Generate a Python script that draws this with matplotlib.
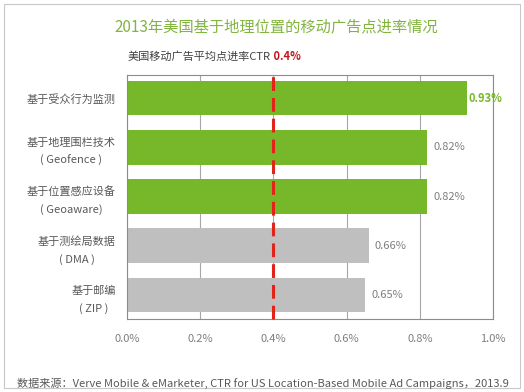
#US location-based mobile ad CTR, 2013

import matplotlib
matplotlib.use('Agg')
import matplotlib.pyplot as plt
from matplotlib.patches import Rectangle

plt.rcParams['font.family'] = ['Noto Sans CJK SC', 'DejaVu Sans']

categories = ['基于受众行为监测',
              '基于地理围栏技术\n( Geofence )',
              '基于位置感应设备\n( Geoaware)',
              '基于测绘局数据\n( DMA )',
              '基于邮编\n( ZIP )']
ctr = [0.93, 0.82, 0.82, 0.66, 0.65]
value_labels = ['0.93%', '0.82%', '0.82%', '0.66%', '0.65%']
avg_ctr = 0.4
xticks = [0.0, 0.2, 0.4, 0.6, 0.8, 1.0]
xtick_labels = ['0.0%', '0.2%', '0.4%', '0.6%', '0.8%', '1.0%']

title = '2013年美国基于地理位置的移动广告点进率情况'
subtitle = '美国移动广告平均点进率CTR'
subtitle_value = ' 0.4%'
source = '数据来源：Verve Mobile & eMarketer, CTR for US Location-Based Mobile Ad Campaigns，2013.9'

green = '#76B82A'
grey_bar = '#BFBFBF'
text_grey = '#595959'
colors = [green, green, green, grey_bar, grey_bar]

W, H = 524, 392
fig = plt.figure(figsize=(W / 100, H / 100), dpi=100)
ax = fig.add_axes([127 / W, 1 - 319 / H, 366 / W, 244 / H])

pos = list(range(len(categories)))
ax.barh(pos, ctr, height=0.70, color=colors, zorder=2)

#average line
ax.axvline(avg_ctr, ymin=0, ymax=1.012, color='#E2231A', lw=2.2,
           dashes=(4.5, 2.3), clip_on=False, zorder=4)

for i, (v, lab) in enumerate(zip(ctr, value_labels)):
    if i == 0:
        ax.annotate(lab, (v, i), xytext=(0.5, 0), textcoords='offset points',
                    va='center', ha='left', fontsize=8, color=green,
                    fontweight='bold', zorder=5)
    else:
        ax.annotate(lab, (v, i), xytext=(4.5, 0), textcoords='offset points',
                    va='center', ha='left', fontsize=8, color='#7F7F7F')

ax.set_xlim(0, 1.0)
ax.set_ylim(4.49, -0.47)
ax.set_xticks(xticks)
ax.set_xticklabels(xtick_labels)
ax.set_yticks(pos)
ax.set_yticklabels(categories)
ax.tick_params(axis='x', length=0, pad=11, labelsize=8, labelcolor='#7F7F7F')
ax.tick_params(axis='y', length=0, pad=8, labelsize=8, labelcolor=text_grey)
for lbl in ax.get_yticklabels():
    lbl.set_multialignment('center')
    lbl.set_linespacing(1.8)

ax.grid(axis='x', color='#A6A6A6', lw=0.8, zorder=0)
ax.set_axisbelow(True)
for s in ax.spines.values():
    s.set_color('#8C8C8C')
    s.set_linewidth(0.8)

#titles
fig.text(276 / W, 1 - 27 / H, title, ha='center', va='center',
         fontsize=11, color='#82B440')
t1 = fig.text(128 / W, 1 - 57 / H, subtitle, ha='left', va='center',
              fontsize=8, color='#404040')
fig.add_artist(plt.Annotation(subtitle_value, xy=(1, 0.5), xycoords=t1,
                              va='center', ha='left', fontsize=8,
                              color='#C0161B', fontweight='bold'))
fig.text(17 / W, 1 - 383 / H, source, ha='left', va='center',
         fontsize=8, color=text_grey)

#outer frame
fig.add_artist(Rectangle((4 / W, 1 - 388 / H), 516 / W, 384 / H,
                         transform=fig.transFigure, fill=False,
                         edgecolor='#C8C8C8', lw=0.8))

fig.savefig('out.png', dpi=100)
